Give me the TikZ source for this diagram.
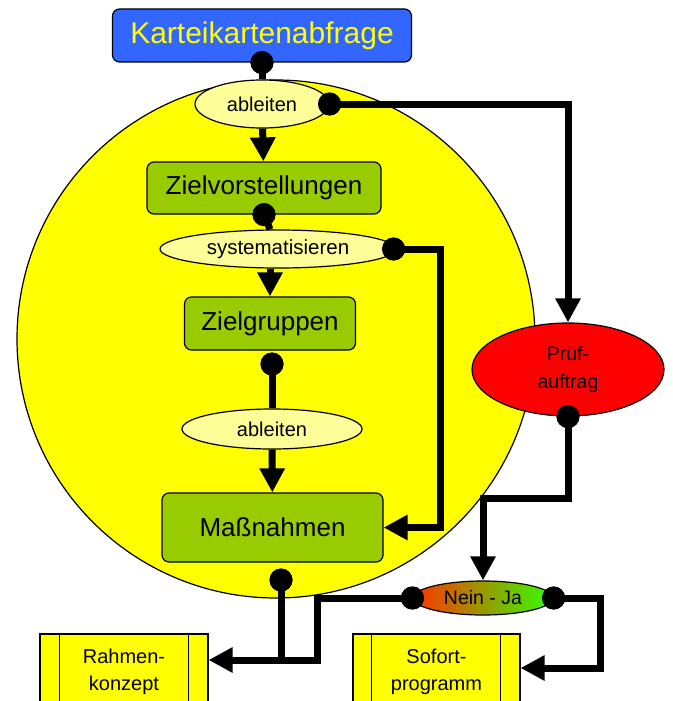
\documentclass[tikz,border=0pt]{standalone}
\usepackage{fontspec}
\setmainfont{Liberation Sans}
\usetikzlibrary{shapes.geometric,arrows.meta}
\definecolor{kblue}{HTML}{3366FF}
\definecolor{kyellow}{HTML}{FFFF00}
\definecolor{lyellow}{HTML}{FFFF99}
\definecolor{kgreen}{HTML}{99CC00}
\definecolor{kred}{HTML}{FF0000}
\definecolor{njred}{HTML}{FF3300}
\definecolor{njgreen}{HTML}{33FF00}
\begin{document}
\begin{tikzpicture}[x=1pt,y=-1pt,
  box/.style={rectangle, draw=black, line width=1.2pt, rounded corners=7pt, inner sep=0pt, align=center},
  oval/.style={ellipse, draw=black, line width=1.2pt, fill=lyellow, inner sep=0pt, align=center},
  sidebox/.style={rectangle, draw=black, line width=1.2pt, fill=kyellow, inner sep=0pt, align=center,
     minimum height=76pt, font=\fontsize{20}{27}\selectfont},
  dot/.style={circle, fill=black, minimum size=23pt, inner sep=0pt},
  conn/.style={line width=7pt},
  arr/.style={conn, -{Triangle[width=24pt,length=24pt]}},
  big/.style={font=\fontsize{26}{30}\selectfont},
  small/.style={font=\fontsize{20}{24}\selectfont}]
\useasboundingbox (0,0) rectangle (672,701);
\clip (0,0) rectangle (672,701);
\fill[white] (0,0) rectangle (672,701);

% big circle
\node[circle, draw=black, line width=1.2pt, fill=kyellow, minimum size=518pt, inner sep=0pt] (circ) at (276,339) {};

% nodes
\node[box, fill=kblue, text=kyellow, minimum width=299pt, minimum height=53pt,
      font=\fontsize{30}{36}\selectfont] (kb) at (262,35.5) {Karteikartenabfrage};
\node[oval, small, minimum width=134pt, minimum height=48pt] (abl1) at (262,104) {ableiten};
\node[box, big, fill=kgreen, minimum width=234pt, minimum height=52pt] (zv) at (264,188) {Zielvorstellungen};
\node[oval, font=\fontsize{20.5}{24}\selectfont, minimum width=236pt, minimum height=38pt] (sys) at (278,249) {systematisieren};
\node[box, big, fill=kgreen, minimum width=171pt, minimum height=53pt] (zg) at (270,323.5) {Zielgruppen};
\node[oval, small, minimum width=180pt, minimum height=40pt] (abl2) at (272,429) {\raisebox{-3pt}{ableiten}};
\node[box, big, fill=kgreen, minimum width=221pt, minimum height=69pt] (mn) at (272.5,527.5) {Maßnahmen};
\node[oval, fill=kred, font=\fontsize{19.5}{28}\selectfont, minimum width=192pt, minimum height=93pt] (pa) at (568,369.5) {Prüf-\\auftrag};
\node[ellipse, draw=black, line width=1.2pt, left color=njred, right color=njgreen, inner sep=0pt,
      font=\fontsize{19.5}{24}\selectfont, minimum width=140pt, minimum height=34pt] (nj) at (483,598) {\raisebox{-5pt}{Nein - Ja}};
\node[sidebox, minimum width=168pt] (rk) at (124,672) {Rahmen-\\konzept};
\node[sidebox, minimum width=167pt] (sp) at (436.5,672) {Sofort-\\programm};
\draw[line width=1.2pt] ([xshift=20pt]rk.north west) -- ([xshift=20pt]rk.south west);
\draw[line width=1.2pt] ([xshift=-20pt]rk.north east) -- ([xshift=-20pt]rk.south east);
\draw[line width=1.2pt] ([xshift=19pt]sp.north west) -- ([xshift=19pt]sp.south west);
\draw[line width=1.2pt] ([xshift=-20pt]sp.north east) -- ([xshift=-20pt]sp.south east);

% dots
\node[dot] (dkb) at (kb.south) {};
\node[dot] (dabl1) at (abl1.east) {};
\node[dot] (dzv) at (zv.south) {};
\node[dot] (dsys) at ([xshift=-3pt]sys.east) {};
\node[dot] (dzg) at (272,364) {};
\node[dot] (dmn) at (281,580) {};
\node[dot] (dpa) at (pa.south) {};
\node[dot] (dnl) at (nj.west) {};
\node[dot] (dnr) at (nj.east) {};

% helper coordinates
\coordinate (c1) at (440,400);
\coordinate (rkin) at ([yshift=12pt]rk.east);
\coordinate (c3) at (317,660);
\coordinate (cj) at (281,660);
\coordinate (c4) at (483,498);
\coordinate (c5) at (600,630);
\coordinate (spin) at ([yshift=4pt]sp.east);

% connectors
\draw[conn] (dkb.center) -- (abl1);
\draw[arr] (dabl1.center) -| (pa);
\draw[arr] (abl1) -- (zv);
\draw[conn] (dzv.center) -- (sys);
\draw[arr] (sys.south -| zg.north) -- (zg.north);
\draw[arr] (dsys.center) -| (c1) |- (mn);
\draw[conn] (dzg.center) -- (abl2);
\draw[arr] (abl2) -- (mn);
\draw[arr] (dmn.center) |- (rkin);
\draw[conn] (dnl.center) -| (c3) -- (cj);
\draw[arr] (dpa.center) |- (c4) -- (nj);
\draw[arr] (dnr.center) -| (c5) |- (spin);

% redraw dots on top
\foreach \d in {dkb,dabl1,dzv,dsys,dzg,dmn,dpa,dnl,dnr}
  \fill[black] (\d.center) circle (11.5pt);
\end{tikzpicture}
\end{document}
